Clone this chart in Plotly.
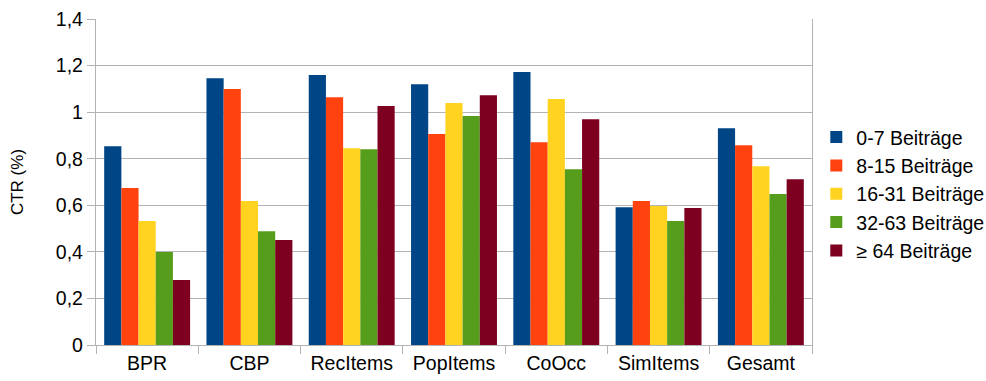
import plotly.graph_objects as go

# Click-through rate per recommender, split by number of user posts
categories = ["BPR", "CBP", "RecItems", "PopItems", "CoOcc", "SimItems", "Gesamt"]

series_names = ["0-7 Beiträge", "8-15 Beiträge", "16-31 Beiträge", "32-63 Beiträge", "≥ 64 Beiträge"]

ctr_0_7 = [0.854, 1.146, 1.159, 1.120, 1.172, 0.592, 0.931]
ctr_8_15 = [0.674, 1.099, 1.064, 0.906, 0.871, 0.618, 0.858]
ctr_16_31 = [0.532, 0.618, 0.845, 1.039, 1.056, 0.597, 0.768]
ctr_32_63 = [0.399, 0.489, 0.841, 0.983, 0.755, 0.532, 0.648]
ctr_64_plus = [0.279, 0.451, 1.026, 1.073, 0.970, 0.588, 0.712]

y_ticks = [0, 0.2, 0.4, 0.6, 0.8, 1.0, 1.2, 1.4]

colors = ["#004586", "#ff420e", "#ffd320", "#579d1c", "#7e0021"]
grid_color = "#b3b3b3"
font_family = "Liberation Sans, Arial, sans-serif"

fig = go.Figure()
for name, values, color in zip(
    series_names,
    [ctr_0_7, ctr_8_15, ctr_16_31, ctr_32_63, ctr_64_plus],
    colors,
):
    fig.add_trace(go.Bar(
        x=categories,
        y=values,
        name=name,
        marker=dict(color=color, line=dict(width=0)),
    ))

fig.update_layout(
    width=986,
    height=381,
    margin=dict(l=96, r=174.3, t=19.3, b=36, autoexpand=False),
    paper_bgcolor="white",
    plot_bgcolor="white",
    barmode="group",
    bargap=0.16,
    bargroupgap=0,
    separators=",.",
    font=dict(family=font_family, size=19.5, color="#000000"),
    showlegend=True,
    legend=dict(
        x=0.006,
        y=0.4636,
        xref="paper",
        xanchor="left",
        yanchor="middle",
        font=dict(size=19.5, color="#000000"),
        bgcolor="rgba(0,0,0,0)",
        tracegroupgap=0,
        itemclick=False,
    ),
)

# move legend to the right of the plot area
fig.update_layout(legend_x=1.006)

fig.update_xaxes(
    type="category",
    showgrid=False,
    showline=True,
    linecolor=grid_color,
    linewidth=1.3,
    ticks="outside",
    tickson="boundaries",
    ticklen=8,
    tickcolor=grid_color,
    tickwidth=1.3,
    tickfont=dict(size=19.5),
)

fig.update_yaxes(
    range=[0, 1.4],
    tickvals=y_ticks,
    showgrid=True,
    gridcolor=grid_color,
    gridwidth=1.3,
    zeroline=False,
    showline=True,
    mirror=True,
    linecolor=grid_color,
    linewidth=1.3,
    ticks="outside",
    ticklen=8,
    tickcolor=grid_color,
    tickwidth=1.3,
    tickfont=dict(size=19.5),
    title=dict(text="CTR (%)", font=dict(size=17), standoff=27),
)

fig.write_html("out.html")
